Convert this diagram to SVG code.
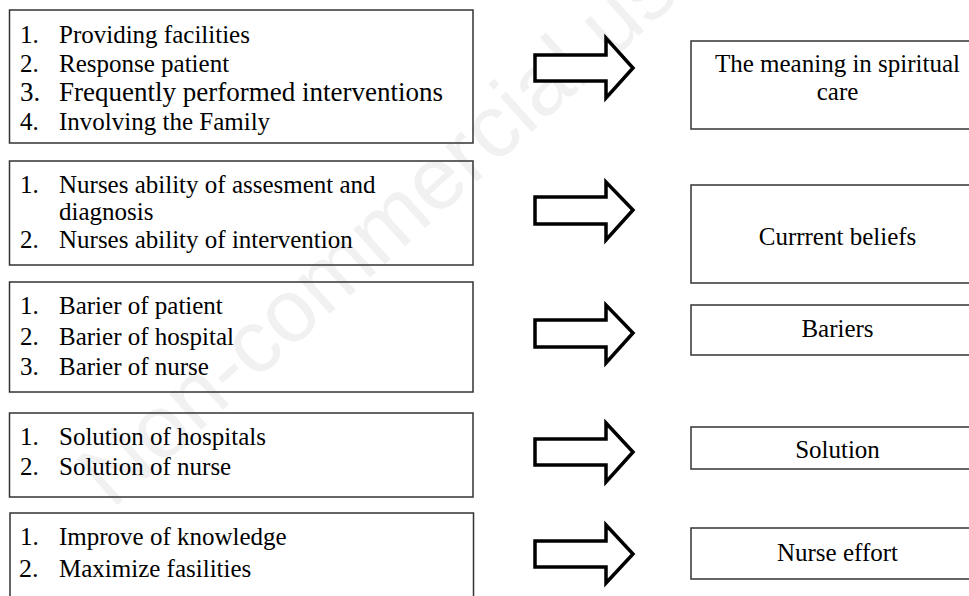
<svg xmlns="http://www.w3.org/2000/svg" width="969" height="596" viewBox="0 0 969 596">
<style>
.box{fill:none;stroke:#333;stroke-width:1.5}
.t{font-family:'Liberation Serif','Times New Roman',serif;font-size:25px;fill:#000}
.c{text-anchor:middle}
.arr{fill:#fff;stroke:#000;stroke-width:3.5;stroke-linejoin:miter}
.wm{font-family:'Liberation Sans',Arial,sans-serif;font-size:89px;fill:#f1f1f1}
</style>
<rect width="969" height="596" fill="#fff"/>
<text class="wm" transform="translate(112,510) rotate(-42)">Non-commercial use</text>
<g id="left1">
<rect class="box" x="9.5" y="10" width="463.5" height="133"/>
<text class="t" x="20" y="43">1.</text><text class="t" x="59" y="43">Providing facilities</text>
<text class="t" x="20" y="72">2.</text><text class="t" x="59" y="72">Response patient</text>
<text class="t" x="20" y="101" style="font-size:27px">3.</text><text class="t" x="59" y="101" style="font-size:27px">Frequently performed interventions</text>
<text class="t" x="20" y="130">4.</text><text class="t" x="59" y="130">Involving the Family</text>
</g>
<g id="left2">
<rect class="box" x="9.5" y="161" width="463.5" height="104"/>
<text class="t" x="20" y="193">1.</text><text class="t" x="59" y="193">Nurses ability of assesment and</text>
<text class="t" x="59" y="220">diagnosis</text>
<text class="t" x="20" y="248">2.</text><text class="t" x="59" y="248">Nurses ability of intervention</text>
</g>
<g id="left3">
<rect class="box" x="9.5" y="282" width="463.5" height="110"/>
<text class="t" x="20" y="314">1.</text><text class="t" x="59" y="314">Barier of patient</text>
<text class="t" x="20" y="345">2.</text><text class="t" x="59" y="345">Barier of hospital</text>
<text class="t" x="20" y="375">3.</text><text class="t" x="59" y="375">Barier of nurse</text>
</g>
<g id="left4">
<rect class="box" x="9.5" y="413" width="463.5" height="84"/>
<text class="t" x="20" y="445">1.</text><text class="t" x="59" y="445">Solution of hospitals</text>
<text class="t" x="20" y="475">2.</text><text class="t" x="59" y="475">Solution of nurse</text>
</g>
<g id="left5">
<rect class="box" x="10" y="513" width="463.5" height="100"/>
<text class="t" x="20" y="545">1.</text><text class="t" x="59" y="545">Improve of knowledge</text>
<text class="t" x="19" y="577" style="font-size:26px">2.</text><text class="t" x="59" y="577">Maximize fasilities</text>
</g>
<g id="right1">
<rect class="box" x="691" y="41" width="293" height="88"/>
<text class="t c" x="837.5" y="72">The meaning in spiritual</text>
<text class="t c" x="837.5" y="100">care</text>
</g>
<g id="right2">
<rect class="box" x="691" y="185" width="293" height="98"/>
<text class="t c" x="837.5" y="245">Currrent beliefs</text>
</g>
<g id="right3">
<rect class="box" x="691" y="305" width="293" height="50"/>
<text class="t c" x="837.5" y="337">Bariers</text>
</g>
<g id="right4">
<rect class="box" x="691" y="427" width="293" height="42"/>
<text class="t c" x="837.5" y="458">Solution</text>
</g>
<g id="right5">
<rect class="box" x="691" y="528" width="293" height="51"/>
<text class="t c" x="837.5" y="561">Nurse effort</text>
</g>
<g id="connectors">
<path class="arr" d="M535,55 H606 V38 L633,68 L606,98 V81 H535 Z"/>
<path class="arr" d="M535,197 H606 V182 L633,210 L606,240 V224 H535 Z"/>
<path class="arr" d="M535,320 H606 V305 L633,333 L606,363 V347 H535 Z"/>
<path class="arr" d="M535,439 H606 V423 L633,452 L606,482 V465 H535 Z"/>
<path class="arr" d="M535,541 H606 V525 L633,554 L606,583 V567 H535 Z"/>
</g>
</svg>
